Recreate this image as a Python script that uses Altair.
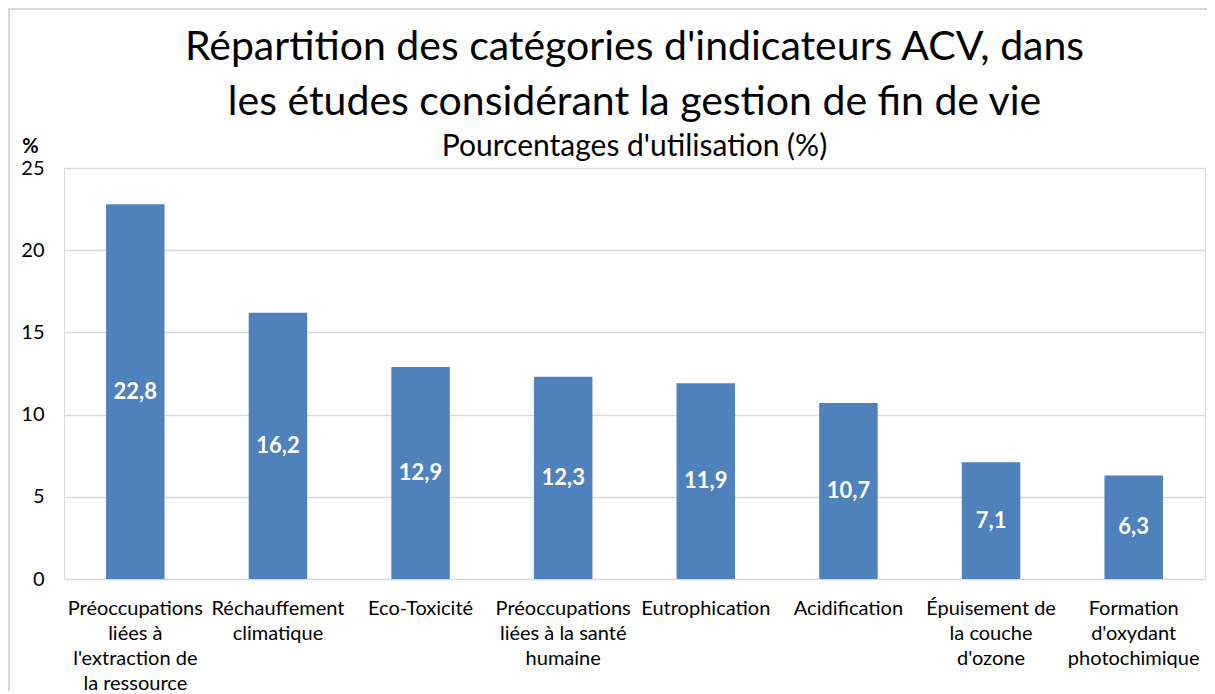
import altair as alt
import pandas as pd

categories = [
    "Préoccupations|liées à|l'extraction de|la ressource",
    "Réchauffement|climatique",
    "Eco-Toxicité",
    "Préoccupations|liées à la santé|humaine",
    "Eutrophication",
    "Acidification",
    "Épuisement de|la couche|d'ozone",
    "Formation|d'oxydant|photochimique",
]
values = [22.8, 16.2, 12.9, 12.3, 11.9, 10.7, 7.1, 6.3]
y_ticks = [0, 5, 10, 15, 20, 25]

df = pd.DataFrame({"cat": categories, "v": values})
FONT = "Lato"

x_enc = alt.X(
    "cat:N",
    sort=None,
    scale=alt.Scale(paddingInner=0.59, paddingOuter=0.295),
    axis=alt.Axis(
        title=None,
        labelExpr="split(datum.label, '|')",
        labelAngle=0,
        labelFontSize=20,
        labelFont=FONT,
        labelColor="#000000",
        labelLineHeight=25,
        labelPadding=19,
        labelLimit=300,
        ticks=False,
        domain=False,
        labelBaseline="top",
    ),
)

bars = alt.Chart(df).mark_bar(color="#4F81BD").encode(
    x=x_enc,
    y=alt.Y(
        "v:Q",
        scale=alt.Scale(domain=[0, 25], nice=False),
        axis=alt.Axis(
            values=y_ticks,
            title="%",
            titleAngle=0,
            titleFontSize=20,
            titleFont=FONT,
            titleFontWeight="bold",
            titleColor="#000000",
            titleX=-34,
            titleY=-16,
            titleAlign="center",
            titleBaseline="alphabetic",
            labelFontSize=20,
            labelFont=FONT,
            labelColor="#000000",
            labelPadding=20,
            ticks=False,
            domain=False,
            gridColor="#d9d9d9",
            gridWidth=1.5,
        ),
    ),
)

labels = alt.Chart(df).transform_calculate(
    half="datum.v / 2",
    lab="replace(format(datum.v, '.1f'), '.', ',')",
).mark_text(
    color="white", fontWeight="bold", fontSize=22, font=FONT, baseline="middle"
).encode(
    x=alt.X("cat:N", sort=None),
    y=alt.Y("half:Q"),
    text="lab:N",
)

frame = alt.Chart(df.head(1)).mark_rect(
    filled=False, stroke="#d9d9d9", strokeWidth=2, clip=False
).encode(
    x=alt.value(-55), x2=alt.value(1160), y=alt.value(-159), y2=alt.value(560)
)

chart = alt.layer(frame, bars, labels).properties(
    width=1141,
    height=411,
    padding={"left": 56, "top": 160, "right": 2, "bottom": 112},
    autosize=alt.AutoSizeParams(type="none"),
    title=alt.TitleParams(
        text=["Répartition des catégories d'indicateurs ACV, dans",
              "les études considérant la gestion de fin de vie"],
        subtitle="Pourcentages d'utilisation (%)",
        anchor="middle",
        fontSize=41,
        font=FONT,
        fontWeight="normal",
        color="#000000",
        lineHeight=55,
        subtitleFontSize=30,
        subtitleFont=FONT,
        subtitleColor="#000000",
        subtitlePadding=8,
        offset=-155,
    ),
).configure_view(strokeWidth=0).configure(background="white")

chart.save("out.html", embed_options={"renderer": "svg", "actions": False})
